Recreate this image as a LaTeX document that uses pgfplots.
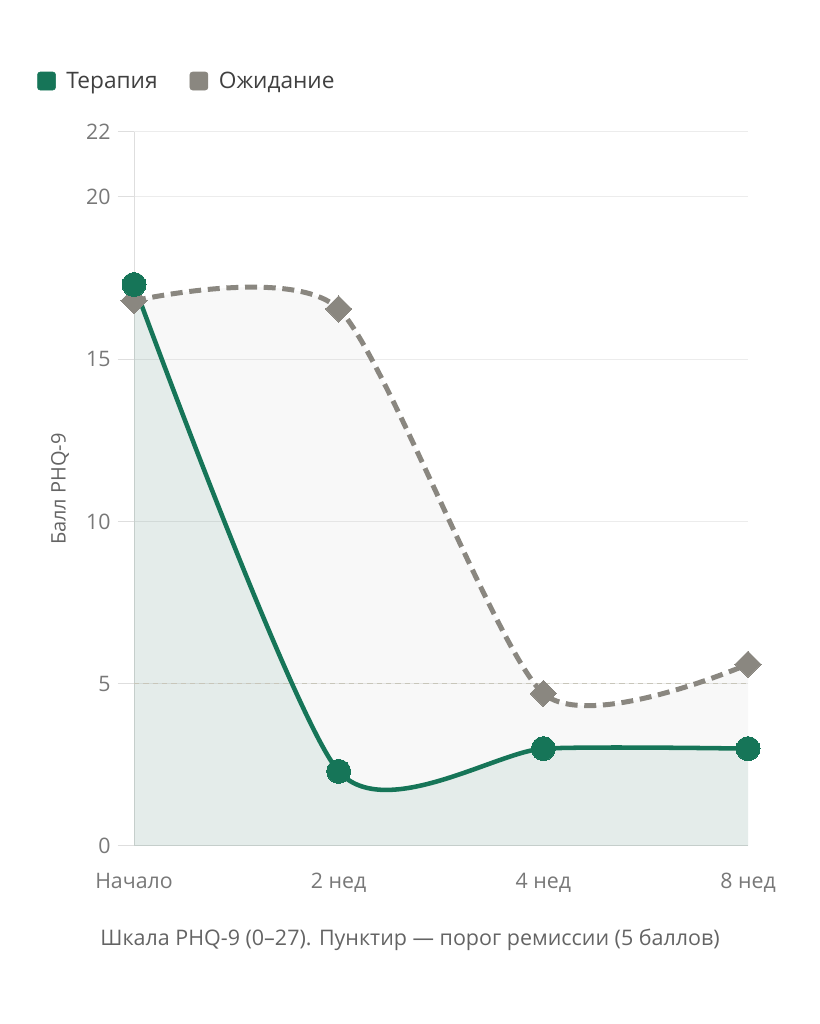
\documentclass[border=0pt]{standalone}
\usepackage{fontspec}
\setmainfont{Open Sans}
\usepackage{pgfplots}
\pgfplotsset{compat=1.18}
\definecolor{tgreen}{RGB}{22,117,88}
\definecolor{wgrey}{RGB}{138,135,128}
\definecolor{gridc}{RGB}{236,236,236}
\definecolor{axc}{RGB}{222,222,222}
\definecolor{tickc}{RGB}{120,120,120}
\definecolor{thr}{RGB}{200,198,186}
\definecolor{labc}{RGB}{100,100,100}
\begin{document}
\begin{tikzpicture}
\path[use as bounding box] (0,0) rectangle (614.25pt,768pt);
\begin{axis}[
  at={(100.5pt,133.5pt)}, anchor=south west,
  scale only axis, width=460.5pt, height=535.5pt,
  xmin=0, xmax=3, ymin=0, ymax=22,
  clip=false,
  /pgf/number format/assume math mode=true,
  axis lines*=left,
  axis line style={axc, line width=0.75pt},
  xtick={0,1,2,3}, xticklabels={Начало,2 нед,4 нед,8 нед},
  ytick={0,5,10,15,20,22},
  ymajorgrids, grid style={gridc, line width=0.75pt},
  xtick style={draw=none},
  ytick style={axc, line width=0.75pt},
  tick align=outside, major tick length=12pt,
  tick label style={font=\fontsize{16}{18}\selectfont, text=tickc},
  xticklabel style={yshift=-5pt},
  yticklabel style={xshift=-2pt},
  ylabel={Балл PHQ-9},
  ylabel style={font=\fontsize{15}{18}\selectfont, text=labc, at={(axis description cs:-0.1205,0.5)}, anchor=center},
  legend columns=2,
  legend cell align=left,
  legend style={draw=none, fill=none, at={(-0.158,1.0714)}, anchor=west,
    font=\fontsize{17}{20}\selectfont, text=black!75, inner sep=0pt,
    /tikz/every odd column/.append style={column sep=6pt},
    /tikz/every even column/.append style={column sep=22pt}},
]
\addlegendimage{legend image code/.code={\fill[tgreen, rounded corners=2pt] (0pt,-6.75pt) rectangle (13.5pt,6.75pt);}}
\addlegendentry{Терапия}
\addlegendimage{legend image code/.code={\fill[wgrey, rounded corners=2pt] (0pt,-6.75pt) rectangle (13.5pt,6.75pt);}}
\addlegendentry{Ожидание}

\addplot[draw=none, fill=black, fill opacity=0.028, smooth, tension=0.4, forget plot]
  coordinates {(0,16.8) (1,16.55) (2,4.7) (3,5.6)} \closedcycle;
\addplot[draw=none, fill=tgreen, fill opacity=0.09, smooth, tension=0.4, forget plot]
  coordinates {(0,17.3) (1,2.3) (2,3.0) (3,3.0)} \closedcycle;
\addplot[thr, line width=0.75pt, dash pattern=on 4pt off 3pt, forget plot]
  coordinates {(0,5) (3,5)};
\addplot[wgrey, line width=3.75pt, dash pattern=on 9pt off 5pt, smooth, tension=0.4,
  mark=square*, mark size=7pt, mark options={solid, rotate=45, fill=wgrey, draw=wgrey, line width=0pt}, forget plot]
  coordinates {(0,16.8) (1,16.55) (2,4.7) (3,5.6)};
\addplot[tgreen, line width=3.4pt, smooth, tension=0.4,
  mark=*, mark size=9pt, mark options={fill=tgreen, draw=tgreen, line width=0pt}, forget plot]
  coordinates {(0,17.3) (1,2.3) (2,3.0) (3,3.0)};
\node[font=\fontsize{16.1}{18}\selectfont, text=labc] at (axis description cs:0.4495,-0.1317)
  {Шкала PHQ-9 (0–27). Пунктир — порог ремиссии (5 баллов)};
\end{axis}
\end{tikzpicture}
\end{document}
